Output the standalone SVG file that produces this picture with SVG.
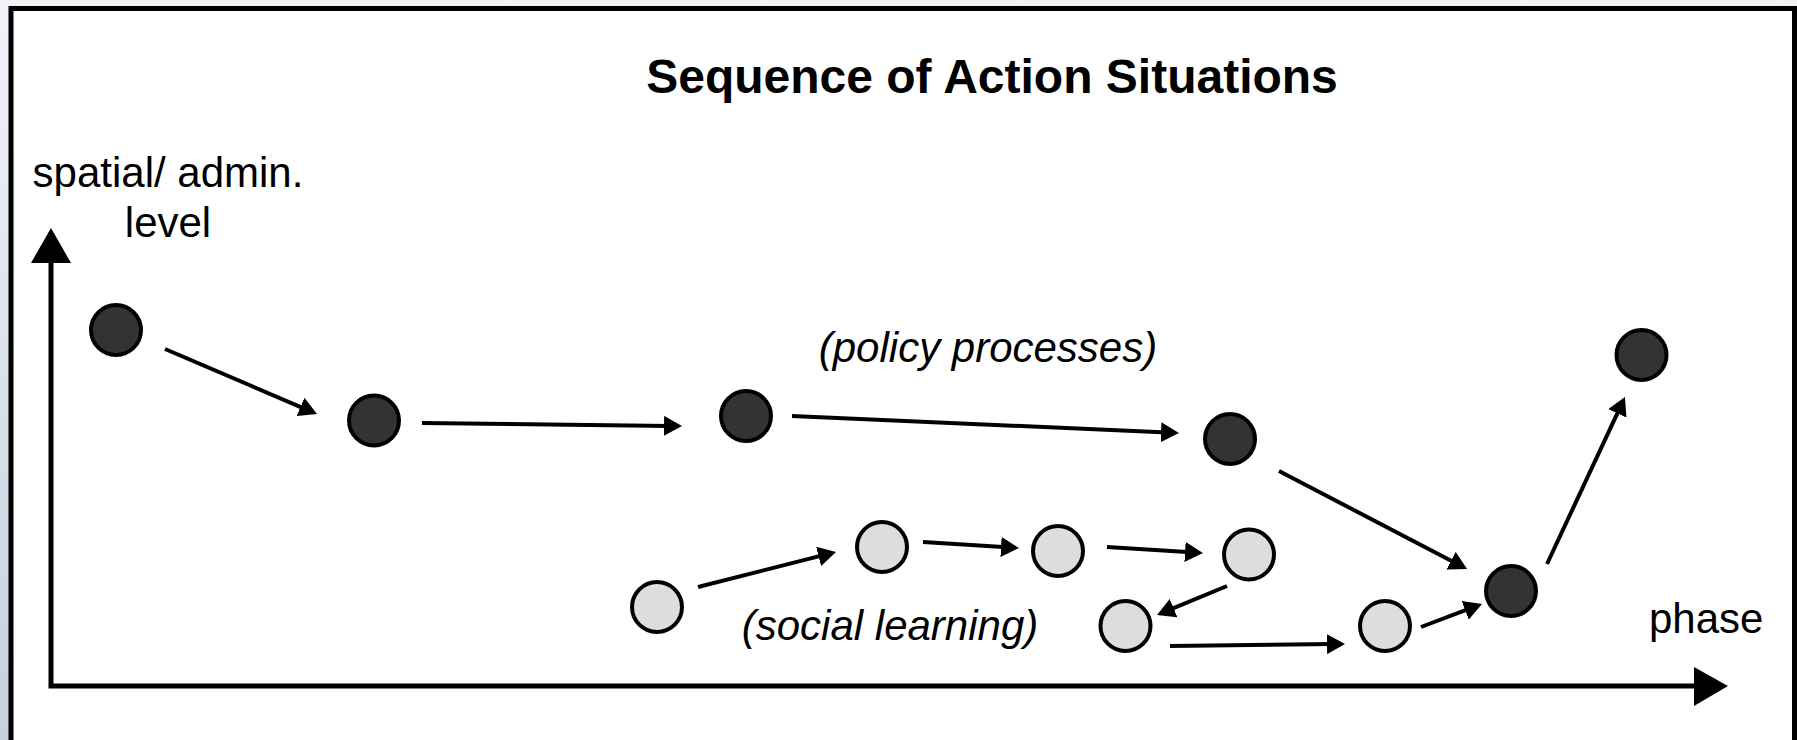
<svg xmlns="http://www.w3.org/2000/svg" width="1797" height="740" viewBox="0 0 1797 740">
  <defs>
    <linearGradient id="bg" x1="0" y1="0" x2="0" y2="1">
      <stop offset="0" stop-color="#f1f3f8"/>
      <stop offset="1" stop-color="#c6cfdd"/>
    </linearGradient>
    <marker id="ah" markerUnits="userSpaceOnUse" markerWidth="18" markerHeight="20" refX="6" refY="10" orient="auto">
      <path d="M0,0 L18,10 L0,20 Z" fill="#000"/>
    </marker>
  </defs>
  <style>
    .lbl { font-family: "Liberation Sans", Arial, sans-serif; font-size: 42px; fill: #000; }
    .it { font-style: italic; text-anchor: middle; }
    .title { font-family: "Liberation Sans", Arial, sans-serif; font-size: 48px; font-weight: bold; text-anchor: middle; fill: #000; }
    .dark { fill: #333333; stroke: #000; stroke-width: 4; }
    .light { fill: #dddddd; stroke: #000; stroke-width: 4; }
    .conn line { stroke: #000; stroke-width: 4; marker-end: url(#ah); }
    .axis { stroke: #000; stroke-width: 5; fill: none; }
  </style>

  <rect x="0" y="0" width="1797" height="740" fill="url(#bg)"/>
  <rect x="11" y="8.5" width="1783.5" height="800" fill="#fff" stroke="#000" stroke-width="5"/>

  <text class="title" x="992" y="93">Sequence of Action Situations</text>

  <g id="axes">
    <polyline class="axis" points="51,263 51,686 1694,686"/>
    <polygon points="31,263 71,263 51,228" fill="#000"/>
    <polygon points="1694,667 1728,686 1694,706" fill="#000"/>
    <text class="lbl" x="168" y="187" text-anchor="middle">spatial/ admin.</text>
    <text class="lbl" x="168" y="237" text-anchor="middle">level</text>
    <text class="lbl" x="1649" y="633">phase</text>
  </g>

  <text class="lbl it" x="988" y="362">(policy processes)</text>
  <text class="lbl it" x="890" y="640">(social learning)</text>

  <g id="connectors" class="conn">
    <line x1="165" y1="349" x2="306" y2="409.3"/>
    <line x1="422" y1="423" x2="670" y2="425.9"/>
    <line x1="792" y1="416" x2="1167" y2="432.5"/>
    <line x1="1279" y1="471" x2="1456.4" y2="563.5"/>
    <line x1="1547" y1="564" x2="1619.9" y2="407.9"/>
    <line x1="698" y1="587" x2="824.4" y2="554.9"/>
    <line x1="923" y1="542" x2="1007" y2="547.3"/>
    <line x1="1107" y1="547" x2="1191" y2="552.3"/>
    <line x1="1227" y1="586" x2="1168.1" y2="610.4"/>
    <line x1="1170" y1="646" x2="1333" y2="644.1"/>
    <line x1="1421" y1="627" x2="1470.8" y2="608.2"/>
  </g>

  <g id="p1"><circle class="dark" cx="116" cy="330" r="25"/></g>
  <g id="p2"><circle class="dark" cx="374" cy="420.5" r="25"/></g>
  <g id="p3"><circle class="dark" cx="746" cy="416" r="25"/></g>
  <g id="p4"><circle class="dark" cx="1230" cy="439" r="25"/></g>
  <g id="p5"><circle class="dark" cx="1511" cy="591" r="25"/></g>
  <g id="p6"><circle class="dark" cx="1641.5" cy="355" r="25"/></g>

  <g id="s1"><circle class="light" cx="657" cy="607" r="25"/></g>
  <g id="s2"><circle class="light" cx="882" cy="547" r="25"/></g>
  <g id="s3"><circle class="light" cx="1058" cy="551" r="25"/></g>
  <g id="s4"><circle class="light" cx="1249" cy="554.5" r="25"/></g>
  <g id="s5"><circle class="light" cx="1125.5" cy="626" r="25"/></g>
  <g id="s6"><circle class="light" cx="1385" cy="626" r="25"/></g>
</svg>
